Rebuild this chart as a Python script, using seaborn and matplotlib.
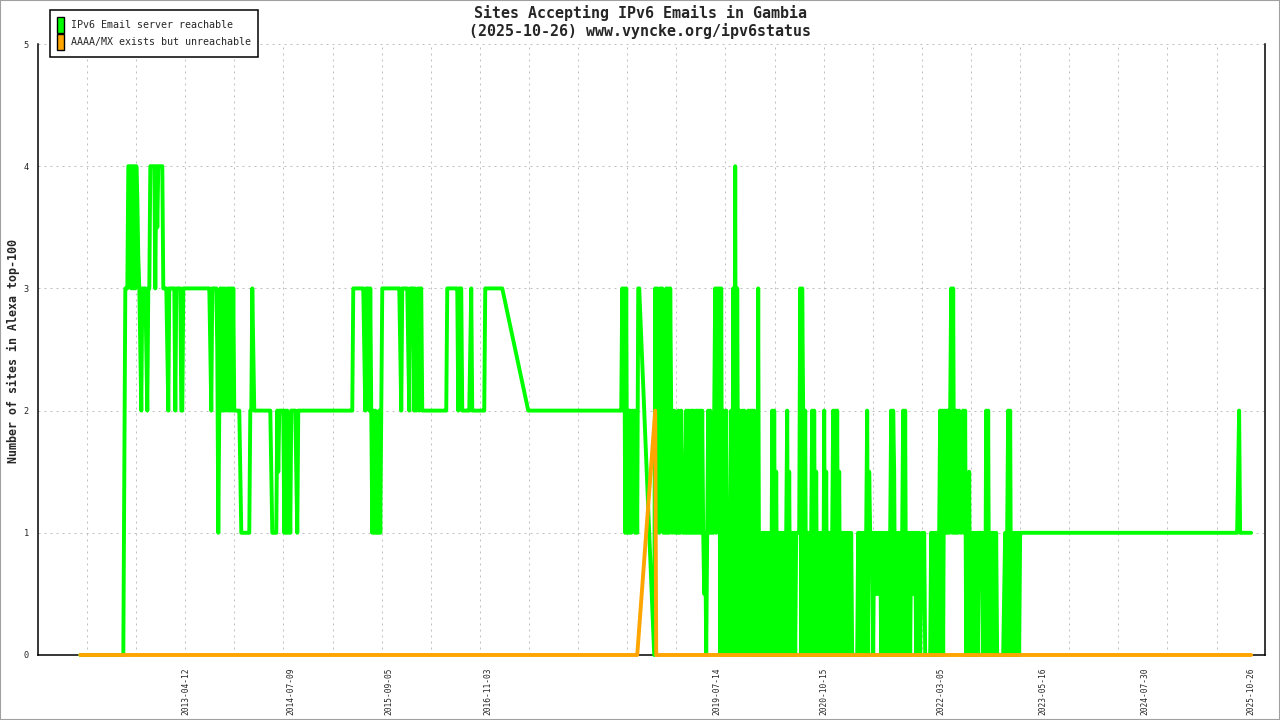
import matplotlib
matplotlib.use("Agg")
from matplotlib import pyplot as plt
from matplotlib.patches import Patch, Rectangle
import matplotlib.dates as mdates
import seaborn as sns
import pandas as pd

sns.set_style("white")
plt.rcParams['font.family'] = ['DejaVu Sans Mono', 'DejaVu Sans']
# the dense 0/1 toggling must not be merged away
plt.rcParams['path.simplify'] = False

# One sample per ~4.3 days.
# '.' = no observation, a/b/c/d = 0.5/1.5/2.5/3.5, e/f = 3.25/3.75
sample_start = "2012-01-15"
sample_days = 4.3

green_code = (
    "0" * 44 + "b333"
    + "444343434fe3c2" + "3333c233" + "4444434d44444"
    + "3333c2" + "333333" + "2" + "33333" + "22" + "3" * 27 + "c2" + "333"
    + "33c123" + "23232c32323232" + "22222b" + "1" * 9 + "223c"
    + "2" * 17 + "b111112b2" + "2222" + "12121b12" + "2222b12"
    + "2" * 54 + "3" * 11 + "c2333232" + "1212111212"
    + "3" * 18 + "c2" + "3" * 6 + "c2" + "3333" + "232c32332"
    + "2" * 24 + "3" * 11 + "2333" + "2" * 8 + "c32" + "2" * 12 + "3" * 18
    + "." * 25 + "2" * 94
    + "32313121212b212133" + "." * 14 + "0"
    + "3132132312" + "13131321b2" + "111211"
    + "2b11121211" + "2121121212" + "121a101212" + "111"
    + "23132303a2" + "0120101203" + "1403120"
    + "12020b0212" + "0202010301" + "0101010101" + "02020b0101"
    + "01010120b0" + "0101011113" + "0320201010" + "12020b0101"
    + "01020b0101" + "01202020b0" + "1010101010" + "1000000"
    + "1010101012" + "0b11101a1a" + "1a10101010" + "101202b010"
    + "1010120201" + "01011a1101" + "010a1a1000" + "0001010101"
    + "0120202121" + "2123131212" + "12b1b21201" + "0b01010101"
    + "0111101020" + "2010101010" + "000000a101" + "2020101010" + "1011"
    + "1" * 216 + "b21" + "1" * 11
)
orange_code = "0" * 558 + "." * 17 + "2" + "0" * 596

label_dates = ["2013-04-12", "2014-07-09", "2015-09-05", "2016-11-03",
               "2019-07-14", "2020-10-15", "2022-03-05", "2023-05-16",
               "2024-07-30", "2025-10-26"]

title = "Sites Accepting IPv6 Emails in Gambia\n(2025-10-26) www.vyncke.org/ipv6status"
ylabel = "Number of sites in Alexa top-100"
series_names = ["IPv6 Email server reachable", "AAAA/MX exists but unreachable"]
colors = ["#00ff00", "#ffa500"]

assert len(green_code) == len(orange_code)

levels = {'0': 0, '1': 1, '2': 2, '3': 3, '4': 4, 'a': 0.5, 'b': 1.5,
          'c': 2.5, 'd': 3.5, 'e': 3.25, 'f': 3.75}


def decode(code):
    "Turn a code string into a frame of dates and values, skipping gaps."
    start = pd.Timestamp(sample_start)
    rows = [(start + pd.Timedelta(days=i * sample_days), levels[ch])
            for i, ch in enumerate(code) if ch != '.']
    return pd.DataFrame(rows, columns=["date", "sites"])


green = decode(green_code)
orange = decode(orange_code)

fig = plt.figure(figsize=(12.8, 7.2), dpi=100)
ax = fig.add_axes([38 / 1280, 65 / 720, 1227 / 1280, 611 / 720])

sns.lineplot(data=green, x="date", y="sites", ax=ax, color=colors[0],
             linewidth=2.8, estimator=None, sort=False)
sns.lineplot(data=orange, x="date", y="sites", ax=ax, color=colors[1],
             linewidth=2.8, estimator=None, sort=False)
for z, line in enumerate(ax.lines):
    line.set_clip_on(False)
    line.set_zorder(3 + z)

ax.set_xlim(pd.Timestamp("2011-07-17"), pd.Timestamp("2025-12-27"))
ax.set_ylim(0, 5)

# regular tick marks (no labels), labels sit at their own dates
tick_pos = [pd.Timestamp("2012-02-13") + pd.Timedelta(days=211.2 * k) for k in range(24)]
ax.set_xticks(mdates.date2num(tick_pos))
ax.set_xticklabels([])
ax.set_xticks(mdates.date2num(pd.to_datetime(label_dates)), label_dates, minor=True)
ax.tick_params(axis='x', which='major', direction='inout', length=7, width=1)
ax.tick_params(axis='x', which='minor', length=0, pad=9, labelsize=5.7, labelrotation=90)
ax.set_yticks(range(6))
ax.tick_params(axis='y', direction='inout', length=7, width=1, labelsize=6.2, pad=3)
ax.tick_params(axis='y', right=False)

ax.grid(True, which='major', color='#c0c0c0', linestyle=(0, (2, 4)), linewidth=0.72)
ax.set_axisbelow(True)

for side in ['left', 'bottom', 'right']:
    ax.spines[side].set_color('black')
    ax.spines[side].set_linewidth(1.1)
ax.spines['top'].set_visible(False)

ax.set_xlabel("")
ax.set_ylabel("")
fig.text(13 / 1280, 1 - 351 / 720, ylabel, rotation=90, ha='center', va='center',
         fontsize=8.4, fontweight='bold')
fig.text(640 / 1280, 1 - 22 / 720, title, ha='center', va='center',
         fontsize=10.8, fontweight='bold', linespacing=1.2)

handles = [Patch(facecolor=c, edgecolor='black', linewidth=1) for c in colors]
leg = fig.legend(handles, series_names, loc='upper left',
                 bbox_to_anchor=(50 / 1280, 1 - 10 / 720), frameon=True,
                 fancybox=False, edgecolor='black', framealpha=1,
                 handlelength=0.7, handleheight=2.1, handletextpad=0.7,
                 borderpad=0.7, labelspacing=0.1, borderaxespad=0,
                 prop={'size': 7.2})
leg.get_frame().set_linewidth(1.1)

fig.patches.append(Rectangle((0, 0), 1, 1, transform=fig.transFigure,
                             fill=False, edgecolor='#a0a0a0', linewidth=1.5))

plt.savefig('out.png', dpi=100)
